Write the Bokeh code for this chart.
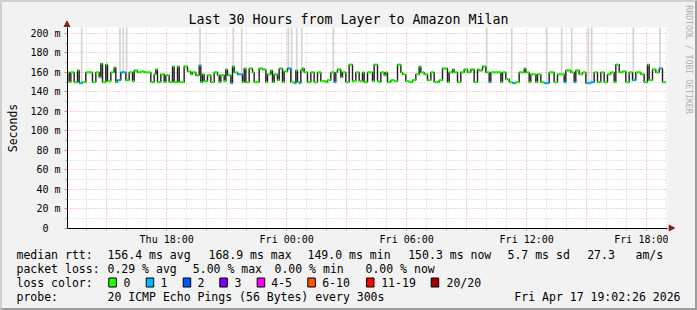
from bokeh.plotting import figure
from bokeh.layouts import column, row
from bokeh.models import FixedTicker, ColumnDataSource
from bokeh.core.properties import value
from bokeh.embed import file_html
from bokeh.resources import INLINE
import math

FONT = "DejaVu Sans Mono"

# ---------------- data ----------------
title_text = "Last 30 Hours from Layer to Amazon Milan"
start_hour = 13 + 2 / 60 + 26 / 3600      # Thu 13:02:26 (hours since Thu 00:00)
span_hours = 30
step_hours = 5 / 60                        # one sample every 300 s
y_max = 206

median_ms = [
    160, 150, 160, 160, 150, 150, 162, 149, 149, 150, 150, 160, 160, 160, 160, 150, 150, 160, 160, 155,
    169, 150, 150, 168, 151, 151, 160, 160, 165, 150, 152, 152, 160, 160, 160, 152, 152, 160, 160, 151,
    162, 162, 160, 160,
    161, 161, 160, 160, 160, 160, 150, 150, 158, 163, 150, 150, 158, 158, 150, 157, 157, 150, 150, 166,
    150, 150, 166, 150, 150, 150, 166, 166, 161, 161, 158, 160, 160, 157, 157, 167, 150, 158, 151, 151,
    157, 157, 150, 150, 160, 160,
    157, 150, 157, 157, 151, 163, 157, 157, 149, 166, 160, 160, 158, 158, 158, 150, 164, 150, 150, 164,
    164, 160, 150, 150, 150, 164, 164, 163, 163, 150, 158, 158, 162, 150, 158, 158, 152, 164, 164, 150,
    161, 161, 164, 164, 150, 150,
    149, 162, 150, 149, 162, 164, 160, 160, 150, 150, 160, 160, 150, 150, 160, 160, 151, 151, 151, 150,
    152, 152, 160, 160, 150, 160, 163, 163, 155, 160, 160, 150, 150, 168, 168, 151, 151, 160, 160, 151,
    151, 160, 150, 150, 160, 160,
    160, 151, 168, 168, 151, 150, 160, 160, 157, 160, 150, 150, 152, 152, 151, 151, 168, 168, 160, 158,
    158, 151, 151, 150, 150, 152, 152, 158, 158, 166, 160, 160, 158, 158, 152, 152, 160, 160, 150, 150,
    150, 152, 152, 164, 164, 164,
    150, 160, 160, 163, 160, 160, 150, 150, 160, 160, 163, 163, 160, 160, 163, 163, 150, 150, 163, 162,
    162, 166, 166, 160, 160, 150, 160, 160, 160, 160, 160, 160, 150, 160, 160, 153, 153, 150, 150, 149,
    149, 150, 150, 160, 160, 160,
    164, 160, 160, 150, 158, 158, 158, 150, 158, 158, 150, 150, 149, 149, 149, 160, 160, 160, 150, 150,
    158, 158, 158, 158, 150, 162, 162, 162, 160, 160, 150, 162, 162, 158, 158, 160, 160, 149, 149, 149,
    150, 150, 160, 160, 150, 150, 160, 160, 150, 150, 158, 158, 160, 160, 150, 168, 168, 160, 160, 161,
    161, 150, 150, 160, 160, 152, 152, 160, 160, 160, 158, 158, 150, 150, 168, 152, 152, 163, 163, 160,
    160, 164, 164, 150, 150,
]
# samples where 1 of 20 pings was lost
lossy_samples = [7, 8, 30, 31, 32, 33, 34, 79, 98, 102, 103, 104, 132, 133, 136, 139, 160, 253, 267,
                 268, 286, 287, 288, 298, 304, 311, 312, 313, 314, 315, 339, 340, 355, 356]
# samples whose ping spread reaches beyond the top of the graph
outlier_samples = [8, 31, 33, 35, 79, 99, 104, 132, 134, 137, 140, 159, 251, 266, 287, 296, 302,
                   312, 314, 339, 355]

x_tick_hours = [18, 24, 30, 36, 42]
x_tick_labels = ["Thu 18:00", "Fri 00:00", "Fri 06:00", "Fri 12:00", "Fri 18:00"]
y_ticks = [0, 20, 40, 60, 80, 100, 120, 140, 160, 180, 200]
y_tick_labels = ["0\u00a0\u00a0", "20 m", "40 m", "60 m", "80 m", "100 m", "120 m", "140 m",
                 "160 m", "180 m", "200 m"]

loss_color_labels = ["0", "1", "2", "3", "4-5", "6-10", "11-19", "20/20"]
loss_color_values = ["#26ff00", "#00b8ff", "#0059ff", "#7e00ff", "#ff00ff", "#ff5500", "#ff0000",
                     "#a10000"]

median_stats = ["156.4 ms avg", "168.9 ms max", "149.0 ms min", "150.3 ms now", "5.7 ms sd",
                "27.3", "am/s"]
loss_stats = ["0.29 % avg", "5.00 % max", "0.00 % min", "0.00 % now"]
probe_text = "20 ICMP Echo Pings (56 Bytes) every 300s"
stamp_text = "Fri Apr 17 19:02:26 2026"
watermark = "RRDTOOL / TOBI OETIKER"

# ---------------- layout constants (px of the whole 697x310 image) ----------------
W, H = 697, 310
BD = 2                         # 3-D border width
FL, FR, FT, FB = 67, 667, 27, 228
PR = 668                       # right edge of the chart figure / left edge of watermark strip
CB = 248                       # bottom of chart part / top of legend part
BACK = "#f2f2f2"
ARROW = "#801f1f"

n = len(median_ms)
lossy = set(lossy_samples)
t0 = [start_hour + i * step_hours for i in range(n)]
t1 = [t + step_hours for t in t0]
seg_colors = [loss_color_values[1] if i in lossy else loss_color_values[0] for i in range(n)]
src = ColumnDataSource(dict(t0=t0, t1=t1, med=median_ms, color=seg_colors))

p = figure(width=PR - BD, height=CB - FT, title=None,
           x_range=(start_hour, start_hour + span_hours), y_range=(0, y_max),
           output_backend="svg", toolbar_location=None,
           min_border_left=FL - BD, min_border_right=PR - FR, min_border_top=0,
           min_border_bottom=CB - FB, background_fill_color="#ffffff",
           border_fill_color=BACK, outline_line_color=None)
p.frame_align = False

# grids
hours = list(range(math.ceil(start_hour), int(start_hour + span_hours) + 1))
major_hours = [h for h in hours if h % 3 == 0]
minor_hours = [h for h in hours if h % 3 != 0]
p.xgrid.ticker = FixedTicker(ticks=major_hours, minor_ticks=minor_hours)
p.ygrid.ticker = FixedTicker(ticks=y_ticks[1:], minor_ticks=list(range(10, y_max, 20)))
for g in (p.xgrid, p.ygrid):
    g.grid_line_color = "#de4f4f"
    g.grid_line_alpha = 0.5
    g.grid_line_dash = "1 2"
    g.minor_grid_line_color = "#8f8f8f"
    g.minor_grid_line_alpha = 0.45
    g.minor_grid_line_dash = "1 2"

# axes
xa = p.xaxis[0]
xa.ticker = FixedTicker(ticks=x_tick_hours, minor_ticks=hours)
xa.major_label_overrides = dict(zip(x_tick_hours, x_tick_labels))
ya = p.yaxis[0]
ya.ticker = FixedTicker(ticks=y_ticks, minor_ticks=list(range(10, y_max, 20)))
ya.major_label_overrides = dict(zip(y_ticks, y_tick_labels))
for ax in (xa, ya):
    ax.axis_line_color = "#000000"
    ax.axis_line_width = 1
    ax.major_label_text_font = FONT
    ax.major_label_text_font_size = "10px"
    ax.major_label_text_color = "#000000"
    ax.major_tick_in = 0
    ax.minor_tick_in = 0
    ax.major_tick_line_color = "#de4f4f"
    ax.major_tick_line_alpha = 0.7
    ax.minor_tick_line_color = "#8f8f8f"
    ax.minor_tick_line_alpha = 0.7
xa.major_tick_out = 2
xa.minor_tick_out = 2
xa.major_label_standoff = 3
ya.major_tick_out = 3
ya.minor_tick_out = 2
ya.major_label_standoff = 4
ya.axis_label = "Seconds"
ya.axis_label_text_font = FONT
ya.axis_label_text_font_size = "11.5px"
ya.axis_label_text_font_style = "normal"
ya.axis_label_text_color = "#000000"
ya.axis_label_standoff = 7

# smoke outliers
p.vbar(x=[t0[i] + step_hours / 2 for i in outlier_samples], width=step_hours,
       bottom=[median_ms[i] for i in outlier_samples], top=y_max + 10,
       fill_color="#d4d4d4", line_color=None)

# median step line (dark) and loss-coloured median marks
p.step(x=t0 + [t1[-1]], y=median_ms + [median_ms[-1]], mode="after",
       line_color="#1e1e1e", line_width=1.4)
p.segment(x0="t0", x1="t1", y0="med", y1="med", line_color="color", line_width=2.2, source=src)


def strip(x0, x1, y0, y1):
    """figure whose frame fills it, with image-pixel coordinates (y downwards)"""
    f = figure(width=x1 - x0, height=y1 - y0, x_range=(x0, x1), y_range=(y1, y0), title=None,
               output_backend="svg", toolbar_location=None, min_border=0,
               min_border_left=0, min_border_right=0, min_border_top=0, min_border_bottom=0,
               x_axis_type=None, y_axis_type=None, background_fill_color=BACK,
               border_fill_color=BACK, outline_line_color=None)
    f.grid.visible = False
    f.frame_align = False
    return f


# ---------------- top strip: title and y-axis arrow ----------------
top = strip(BD, PR, BD, FT)
top.text(x=[348], y=[19], text=[title_text], text_font=value(FONT), text_font_size="13.3px",
         text_align="center", text_baseline="middle", text_color="#000000")
top.segment(x0=[FL - 0.5], x1=[FL - 0.5], y0=[FT], y1=[24], line_color="#000000", line_width=1)
top.patch(x=[FL - 3.5, FL + 2.5, FL - 0.5], y=[26.5, 26.5, 20.5], fill_color=ARROW,
          line_color=ARROW, line_width=1)

# ---------------- right strip: watermark and x-axis arrow ----------------
wm = strip(PR, W - BD, BD, CB)
wm.text(x=[688], y=[59], text=[watermark], text_font=value(FONT), text_font_size="8.2px",
        text_align="center", text_baseline="middle", text_color="#b0b0b0", angle=-math.pi / 2)
wm.segment(x0=[PR], x1=[670], y0=[FB - 0.5], y1=[FB - 0.5], line_color="#000000", line_width=1)
wm.patch(x=[668.5, 668.5, 674], y=[FB - 3.5, FB + 2.5, FB - 0.5], fill_color=ARROW,
         line_color=ARROW, line_width=1)

# ---------------- legend part ----------------
q = strip(BD, W - BD, CB, H - BD)

row_y = [254, 268, 282, 296]
items_x, items_y, items_t = [], [], []
for s, X in zip(["median rtt:"] + median_stats, [16, 107, 208, 307, 407.7, 507, 586.7, 635]):
    items_x.append(X); items_y.append(row_y[0]); items_t.append(s)
for s, X in zip(["packet loss:"] + loss_stats, [16, 107, 192.3, 274, 365]):
    items_x.append(X); items_y.append(row_y[1]); items_t.append(s)
sw_x = [108.3, 145.7, 182.7, 219.3, 256.7, 307.3, 366, 430.7]
for s, X in zip(["loss color:"] + loss_color_labels, [16, 123, 160, 197, 234, 270.7, 321.7, 380.7, 446]):
    items_x.append(X); items_y.append(row_y[2]); items_t.append(s)
for s, X in zip(["probe:", probe_text], [16, 107]):
    items_x.append(X); items_y.append(row_y[3]); items_t.append(s)

q.text(x=items_x, y=items_y, text=items_t, text_font=value(FONT), text_font_size="11.5px",
       text_baseline="middle", text_align="left", text_color="#000000")
q.text(x=[680], y=[row_y[3]], text=[stamp_text], text_font=value(FONT), text_font_size="11.5px",
       text_baseline="middle", text_align="right", text_color="#000000")
q.quad(left=sw_x, right=[x + 7.5 for x in sw_x], top=[277.5] * len(sw_x),
       bottom=[286.5] * len(sw_x), fill_color=loss_color_values, line_color="#000000", line_width=1)

layout = column(row(column(top, p, spacing=0), wm, spacing=0), q, spacing=0,
                styles={"border-style": "solid", "border-width": f"{BD}px",
                        "border-color": "#cfcfcf #9e9e9e #9e9e9e #cfcfcf",
                        "background-color": BACK})

open("out.html", "w").write(file_html(layout, INLINE))
